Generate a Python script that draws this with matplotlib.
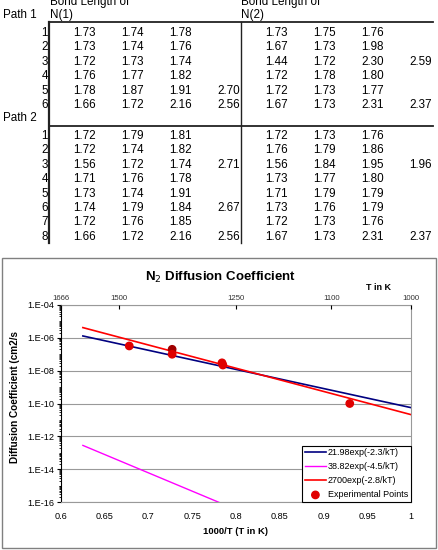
import matplotlib
matplotlib.use("Agg")
import matplotlib.pyplot as plt
import matplotlib.ticker as mticker
import numpy as np
from matplotlib.patches import Rectangle

plt.rcParams["font.family"] = ["Liberation Sans", "DejaVu Sans"]

# ---- table data ----
path1_n1 = [
    ["1.73", "1.74", "1.78", ""],
    ["1.73", "1.74", "1.76", ""],
    ["1.72", "1.73", "1.74", ""],
    ["1.76", "1.77", "1.82", ""],
    ["1.78", "1.87", "1.91", "2.70"],
    ["1.66", "1.72", "2.16", "2.56"],
]
path1_n2 = [
    ["1.73", "1.75", "1.76", ""],
    ["1.67", "1.73", "1.98", ""],
    ["1.44", "1.72", "2.30", "2.59"],
    ["1.72", "1.78", "1.80", ""],
    ["1.72", "1.73", "1.77", ""],
    ["1.67", "1.73", "2.31", "2.37"],
]
path2_n1 = [
    ["1.72", "1.79", "1.81", ""],
    ["1.72", "1.74", "1.82", ""],
    ["1.56", "1.72", "1.74", "2.71"],
    ["1.71", "1.76", "1.78", ""],
    ["1.73", "1.74", "1.91", ""],
    ["1.74", "1.79", "1.84", "2.67"],
    ["1.72", "1.76", "1.85", ""],
    ["1.66", "1.72", "2.16", "2.56"],
]
path2_n2 = [
    ["1.72", "1.73", "1.76", ""],
    ["1.76", "1.79", "1.86", ""],
    ["1.56", "1.84", "1.95", "1.96"],
    ["1.73", "1.77", "1.80", ""],
    ["1.71", "1.79", "1.79", ""],
    ["1.73", "1.76", "1.79", ""],
    ["1.72", "1.73", "1.76", ""],
    ["1.67", "1.73", "2.31", "2.37"],
]

# ---- chart data ----
fit_x = [0.625, 1.0]
fit_blue = [1.3e-6, 5.6e-11]
fit_red = [4.2e-6, 2.1e-11]
fit_mag_x = [0.625, 0.8]
fit_mag = [2.8e-13, 3.5e-17]
exp_x = [0.678, 0.727, 0.727, 0.784, 0.785, 0.930]
exp_y = [3.2e-7, 2.0e-7, 1.0e-7, 3.0e-8, 2.2e-8, 1.0e-10]
exp_c = ["#E00000", "#A00000", "#E00000", "#E00000", "#E00000", "#E00000"]
top_T = [1666, 1500, 1250, 1100, 1000]
x_ticks = [0.6, 0.65, 0.7, 0.75, 0.8, 0.85, 0.9, 0.95, 1.0]
x_ticklabels = ["0.6", "0.65", "0.7", "0.75", "0.8", "0.85", "0.9", "0.95", "1"]

W, H = 439, 550
fig = plt.figure(figsize=(W / 100, H / 100), dpi=100)
fig.patch.set_facecolor("white")

# overlay in pixel coords
ov = fig.add_axes([0, 0, 1, 1])
ov.set_xlim(0, W)
ov.set_ylim(H, 0)
ov.axis("off")

FS = 8.4
ROW = 14.4
col_right = [96, 144, 192, 240, 288, 336, 384, 432]

def draw_block(rows1, rows2, base_y):
    for i, (r1, r2) in enumerate(zip(rows1, rows2)):
        y = base_y + i * ROW
        ov.text(48, y, str(i + 1), ha="right", va="baseline", fontsize=FS)
        for j, v in enumerate(r1 + r2):
            if v:
                ov.text(col_right[j], y, v, ha="right", va="baseline", fontsize=FS)

ov.text(50, 5.5, "Bond Length of", ha="left", va="baseline", fontsize=FS)
ov.text(241, 5.5, "Bond Length of", ha="left", va="baseline", fontsize=FS)
ov.text(50, 17.8, "N(1)", ha="left", va="baseline", fontsize=FS)
ov.text(241, 17.8, "N(2)", ha="left", va="baseline", fontsize=FS)
ov.text(3, 17.8, "Path 1", ha="left", va="baseline", fontsize=FS)
ov.text(3, 121, "Path 2", ha="left", va="baseline", fontsize=FS)

draw_block(path1_n1, path1_n2, 36)
draw_block(path2_n1, path2_n2, 139)

lc = "#222222"
ov.plot([49, 433], [22, 22], color=lc, lw=1.3)
ov.plot([49, 433], [126, 126], color=lc, lw=1.3)
ov.plot([49.5, 49.5], [22, 243], color=lc, lw=1.6)
ov.plot([241.5, 241.5], [22, 243], color=lc, lw=1.0)

# chart frame
ov.add_patch(Rectangle((2, 257.5), 434, 290.5, fill=False, ec="#808080", lw=1.0))
ov.text(220, 277, r"N$_2$ Diffusion Coefficient", ha="center", va="center",
        fontsize=9.5, fontweight="bold")
ov.text(379, 288, "T in K", ha="center", va="center", fontsize=6.5, fontweight="bold")
ov.text(236, 532, "1000/T (T in K)", ha="center", va="center", fontsize=6.8, fontweight="bold")
ov.text(15, 397, "Diffusion Coefficient (cm2/s", ha="center", va="center",
        rotation=90, fontsize=7.2, fontweight="bold")

# ---- chart axes ----
L, R, T, B = 61, 411, 305, 502
ax = fig.add_axes([L / W, (H - B) / H, (R - L) / W, (B - T) / H])
ax.set_yscale("log")
ax.set_xlim(0.6, 1.0)
ax.set_ylim(1e-16, 1e-4)

ax.plot(fit_x, fit_blue, color="#000080", lw=1.2, label="21.98exp(-2.3/kT)")
ax.plot(fit_mag_x, fit_mag, color="#FF00FF", lw=1.0, label="38.82exp(-4.5/kT)")
ax.plot(fit_x, fit_red, color="#FF0000", lw=1.2, label="2700exp(-2.8/kT)")
ax.scatter(exp_x, exp_y, c=exp_c, s=28, zorder=5, label="Experimental Points")

ax.yaxis.set_major_locator(mticker.FixedLocator([10.0 ** e for e in range(-16, -3, 2)]))
ax.yaxis.set_major_formatter(mticker.FuncFormatter(lambda v, p: "1.E%03d" % round(np.log10(v))))
ax.yaxis.set_minor_locator(mticker.LogLocator(base=10, subs=np.arange(1, 10), numticks=50))
ax.yaxis.set_minor_formatter(mticker.NullFormatter())
ax.grid(axis="y", which="major", color="#999999", lw=0.8)
ax.set_xticks(x_ticks)
ax.set_xticklabels(x_ticklabels)
ax.tick_params(axis="x", length=0, pad=7, labelsize=6.6)
ax.tick_params(axis="y", which="major", length=3, width=0.8, pad=2, labelsize=6.6)
ax.tick_params(axis="y", which="minor", length=1.6, width=0.6)
for s in ["top", "right", "bottom"]:
    ax.spines[s].set_color("#999999")
ax.spines["left"].set_color("black")

ax2 = ax.twiny()
ax2.set_xlim(0.6, 1.0)
ax2.set_xticks([1000.0 / t for t in top_T])
ax2.set_xticklabels([str(t) for t in top_T])
ax2.tick_params(axis="x", direction="in", length=3, width=0.8, pad=2,
                labelsize=5.6, labelcolor="#333333")
for s in ax2.spines.values():
    s.set_visible(False)

leg = ax.legend(loc="lower right", bbox_to_anchor=(1, 0), borderaxespad=0,
                fontsize=6.5, frameon=True, fancybox=False, edgecolor="black",
                framealpha=1, handlelength=2.4, handletextpad=0.2,
                labelspacing=0.55, borderpad=0.3)
leg.get_frame().set_linewidth(0.8)

fig.savefig("out.png", dpi=100)
